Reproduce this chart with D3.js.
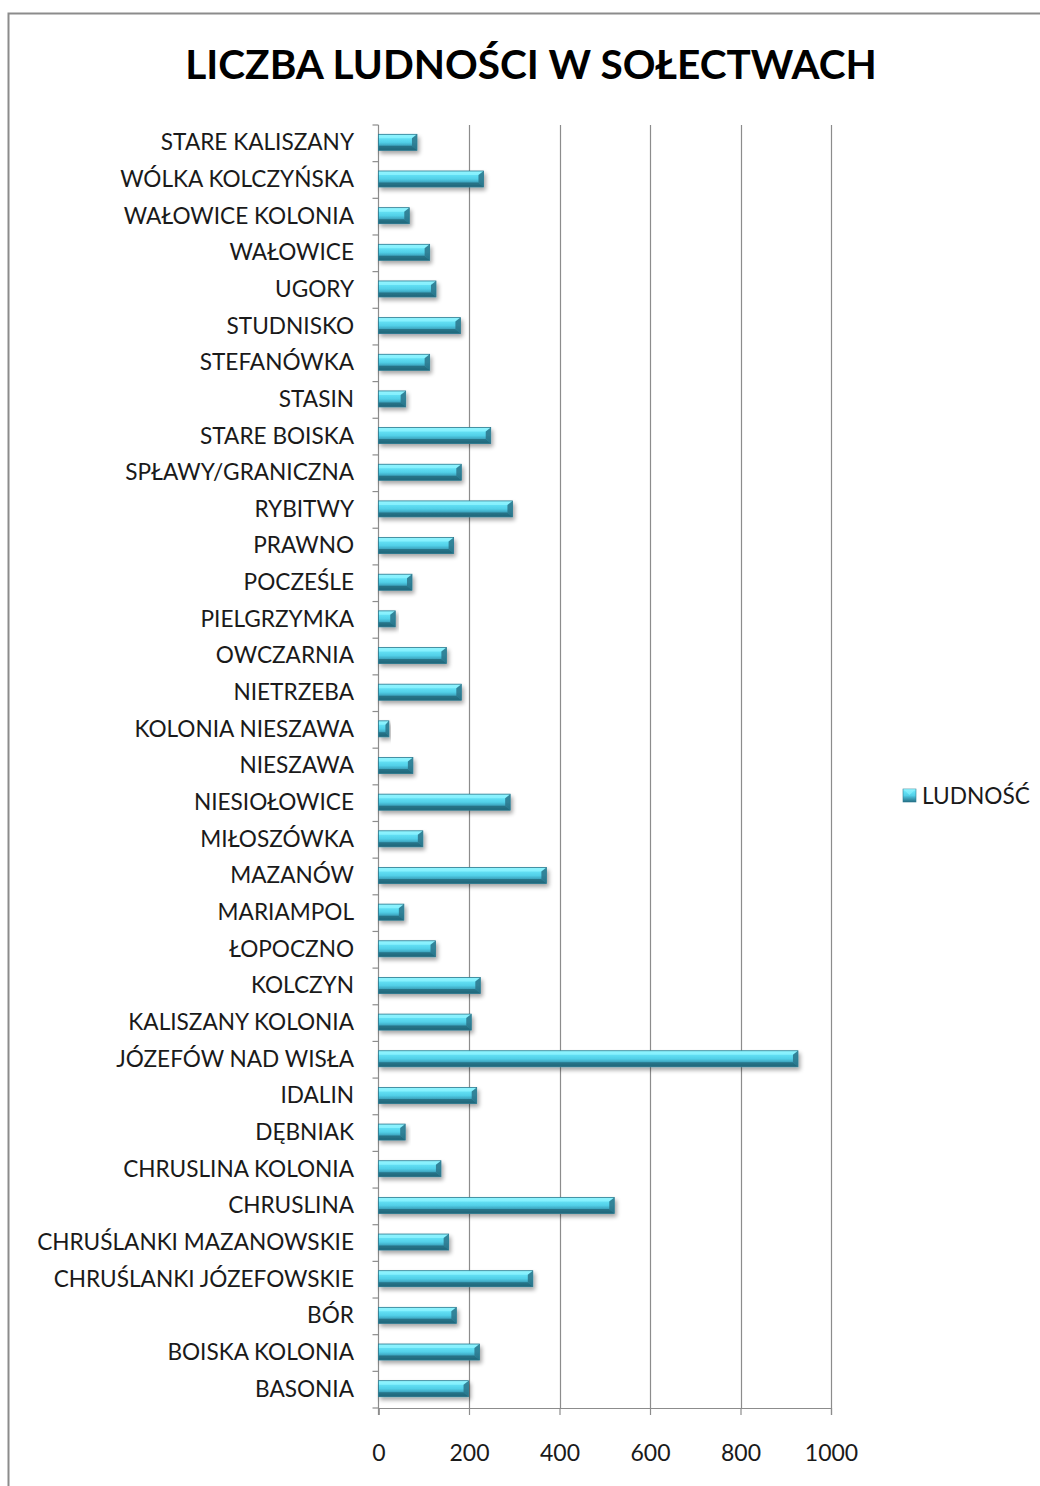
<!DOCTYPE html>
<html>
<head>
<meta charset="utf-8">
<script src="https://cdn.jsdelivr.net/npm/d3@7"></script>
<style>
  html, body { margin: 0; padding: 0; background: #fff; }
  svg { display: block; }
  text { font-family: Lato, "Open Sans", "DejaVu Sans", sans-serif; }
</style>
</head>
<body>
<svg id="chart" width="1040" height="1486"></svg>
<script>
// ---- data (top to bottom as shown) ----
const categories = [
  "STARE KALISZANY", "WÓLKA KOLCZYŃSKA", "WAŁOWICE KOLONIA", "WAŁOWICE", "UGORY",
  "STUDNISKO", "STEFANÓWKA", "STASIN", "STARE BOISKA", "SPŁAWY/GRANICZNA",
  "RYBITWY", "PRAWNO", "POCZEŚLE", "PIELGRZYMKA", "OWCZARNIA",
  "NIETRZEBA", "KOLONIA NIESZAWA", "NIESZAWA", "NIESIOŁOWICE", "MIŁOSZÓWKA",
  "MAZANÓW", "MARIAMPOL", "ŁOPOCZNO", "KOLCZYN", "KALISZANY KOLONIA",
  "JÓZEFÓW NAD WISŁA", "IDALIN", "DĘBNIAK", "CHRUSLINA KOLONIA", "CHRUSLINA",
  "CHRUŚLANKI MAZANOWSKIE", "CHRUŚLANKI JÓZEFOWSKIE", "BÓR", "BOISKA KOLONIA", "BASONIA"
];
const ludnosc = [
  85, 232, 68, 113, 127,
  181, 113, 60, 248, 183,
  296, 166, 74, 37, 150,
  183, 23, 76, 291, 98,
  371, 56, 126, 225, 205,
  927, 217, 59, 138, 521,
  155, 341, 172, 223, 199
];
const xTicks = [0, 200, 400, 600, 800, 1000];
const seriesName = "LUDNOŚĆ";
const title = "LICZBA LUDNOŚCI W SOŁECTWACH";

// ---- layout ----
const svg = d3.select("#chart");
const plot = { left: 378.5, right: 831, top: 125, bottom: 1408 };

const x = d3.scaleLinear().domain([0, 1000]).range([plot.left, plot.right]);
const y = d3.scaleBand().domain(categories).range([plot.top, plot.bottom]).paddingInner(0).paddingOuter(0);
const barH = 16;

// defs
const defs = svg.append("defs");
const grad = defs.append("linearGradient").attr("id", "barGrad")
  .attr("x1", 0).attr("y1", 0).attr("x2", 0).attr("y2", 1);
[["0%", "#9af2fc"], ["20%", "#66e3f7"], ["50%", "#52d0e8"], ["66%", "#41aec8"], ["100%", "#256f84"]]
  .forEach(([o, c]) => grad.append("stop").attr("offset", o).attr("stop-color", c));
const sh = defs.append("filter").attr("id", "shadow").attr("x", "-10%").attr("y", "-50%").attr("width", "130%").attr("height", "250%");
sh.append("feGaussianBlur").attr("in", "SourceAlpha").attr("stdDeviation", 2.2).attr("result", "b");
sh.append("feOffset").attr("in", "b").attr("dx", 2).attr("dy", 3).attr("result", "o");
sh.append("feComponentTransfer").attr("in", "o").attr("result", "oa")
  .append("feFuncA").attr("type", "linear").attr("slope", 0.35);
const m = sh.append("feMerge");
m.append("feMergeNode").attr("in", "oa");
m.append("feMergeNode").attr("in", "SourceGraphic");

// frame
svg.append("rect").attr("x", 8.5).attr("y", 13.5).attr("width", 1100).attr("height", 1600)
  .attr("fill", "#fff").attr("stroke", "#8c8c8c").attr("stroke-width", 2);

// title
const t = svg.append("text").attr("x", 531).attr("y", 79).attr("text-anchor", "middle")
  .attr("font-weight", "bold").attr("font-size", 44).attr("fill", "#000").text(title);
{
  const w = t.node().getComputedTextLength();
  t.attr("font-size", 44 * 692 / w);
}

// gridlines
svg.append("g").selectAll("line").data(xTicks.filter(d => d > 0)).join("line")
  .attr("x1", d => Math.round(x(d)) + 0.5).attr("x2", d => Math.round(x(d)) + 0.5)
  .attr("y1", plot.top).attr("y2", plot.bottom)
  .attr("stroke", "#8c8c8c").attr("stroke-width", 1.2);

// x axis
const xAxis = svg.append("g").attr("transform", `translate(0,${plot.bottom})`)
  .call(d3.axisBottom(x).tickValues(xTicks).tickSize(7).tickPadding(30).tickFormat(d3.format("d")));
xAxis.select(".domain").attr("stroke", "#8c8c8c").attr("stroke-width", 1.2);
xAxis.selectAll(".tick line").attr("stroke", "#8c8c8c").attr("stroke-width", 1.2);
xAxis.selectAll(".tick text").attr("font-size", 23).attr("fill", "#1a1a1a")
  .style("font-family", "Lato, 'Open Sans', sans-serif");

// y axis: line + ticks at category boundaries
const yg = svg.append("g");
yg.append("line").attr("x1", plot.left).attr("x2", plot.left).attr("y1", plot.top).attr("y2", plot.bottom + 7)
  .attr("stroke", "#8c8c8c").attr("stroke-width", 1.2);
const bounds = categories.map(c => y(c)).concat([plot.bottom]);
yg.selectAll("line.tk").data(bounds).join("line").attr("class", "tk")
  .attr("x1", plot.left - 6).attr("x2", plot.left)
  .attr("y1", d => d).attr("y2", d => d)
  .attr("stroke", "#8c8c8c").attr("stroke-width", 1.2);

// category labels
const labels = yg.selectAll("text.lbl").data(categories).join("text").attr("class", "lbl")
  .attr("x", 354).attr("y", d => y(d) + y.bandwidth() / 2 - 1)
  .attr("dy", "0.35em").attr("text-anchor", "end").attr("font-size", 21).attr("fill", "#1a1a1a")
  .text(d => d);
{
  const idx = categories.indexOf("CHRUŚLANKI MAZANOWSKIE");
  const w = labels.nodes()[idx].getComputedTextLength();
  labels.attr("font-size", 21 * 317 / w);
}

// bars
const bars = svg.append("g").selectAll("g.bar").data(categories).join("g").attr("class", "bar")
  .attr("filter", "url(#shadow)");
bars.each(function (c, i) {
  const g = d3.select(this);
  const x0 = x(0), x1 = x(ludnosc[i]);
  const yc = y(c) + y.bandwidth() / 2 - 1;
  const y0 = yc - barH / 2, y1 = yc + barH / 2;
  const w = x1 - x0;
  const b = Math.min(5, w / 3);
  g.append("rect").attr("x", x0).attr("y", y0).attr("width", w).attr("height", barH).attr("fill", "url(#barGrad)");
  // top bevel highlight
  g.append("path").attr("d", `M${x0},${y0}L${x1},${y0}L${x1 - b},${y0 + 4}L${x0},${y0 + 4}Z`)
    .attr("fill", "#8ef4ff").attr("opacity", 0.8);
  // bottom bevel shade
  g.append("path").attr("d", `M${x0},${y1}L${x1},${y1}L${x1 - b},${y1 - 4.5}L${x0},${y1 - 4.5}Z`)
    .attr("fill", "#1f6275").attr("opacity", 0.7);
  // right end cap
  g.append("path").attr("d", `M${x1},${y0}L${x1},${y1}L${x1 - b},${y1 - 4.5}L${x1 - b},${y0 + 4}Z`)
    .attr("fill", "#2a7489").attr("opacity", 0.85);
  g.append("rect").attr("x", x0).attr("y", y0).attr("width", w).attr("height", barH)
    .attr("fill", "none").attr("stroke", "#2b7a90").attr("stroke-width", 0.8);
});

// legend
const lg = svg.append("g").attr("transform", "translate(903,789)");
lg.append("rect").attr("x", 0).attr("y", 0).attr("width", 13).attr("height", 13).attr("fill", "url(#barGrad)")
  .attr("stroke", "#2b7a90").attr("stroke-width", 0.6);
lg.append("path").attr("d", "M0,0L13,0L6.5,6Z").attr("fill", "#8ef4ff").attr("opacity", 0.6);
const lt = lg.append("text").attr("x", 19).attr("y", 7).attr("dy", "0.35em").attr("font-size", 22).attr("fill", "#1a1a1a")
  .text(seriesName);
{
  const w = lt.node().getComputedTextLength();
  lt.attr("font-size", 22 * 108 / w);
}
</script>
</body>
</html>
